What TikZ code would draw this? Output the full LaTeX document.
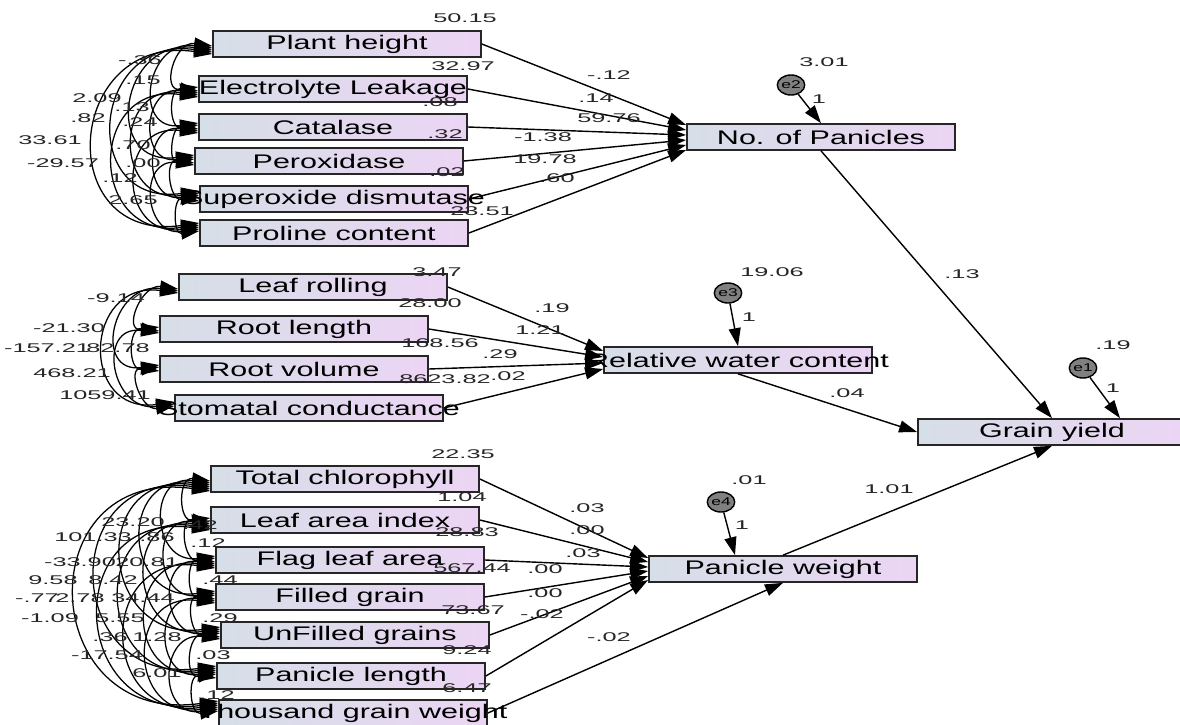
\documentclass[tikz,border=0pt]{standalone}
\usepackage{fontspec}
\setmainfont{Liberation Sans}
\newfontfamily\boxfont[FakeStretch=1.55]{Liberation Sans}
\newfontfamily\numfont[FakeStretch=2]{Liberation Sans}
\usetikzlibrary{arrows.meta}
\usetikzlibrary{calc}
\usetikzlibrary{shapes.geometric}
\definecolor{boxleft}{RGB}{214,222,231}
\definecolor{boxright}{RGB}{236,213,244}
\tikzset{
    >={Triangle[length=4.5mm,width=3mm]},
    obs/.style={draw=black!85, line width=1.2pt, left color=boxleft, right color=boxright,
        minimum width=6.7cm, minimum height=0.65cm, inner sep=0pt,
        font=\boxfont\fontsize{14}{16}\selectfont},
    err/.style={ellipse, draw=black, line width=1pt, fill=black!50, minimum width=0.6cm,
        minimum height=0.5cm, inner sep=0pt, font=\boxfont\fontsize{8}{9}\selectfont},
    num/.style={font=\numfont\fontsize{9}{10}\selectfont, inner sep=0pt, text=black!85},
    effect/.style={->, line width=1pt},
    cov/.style={{Triangle[length=4.5mm,width=3mm]}-{Triangle[length=4.5mm,width=3mm]}, line width=0.9pt}
}

\begin{document}
\begin{tikzpicture}[x=0.025cm, y=-0.025cm]
            \fill[white] (0,0) rectangle (1180,725);
            \useasboundingbox (0,0) rectangle (1180,725);

            \node[obs] (ph) at (347,44) {Plant height};
            \node[obs] (el) at (333,89) {Electrolyte Leakage};
            \node[obs] (cat) at (333,127) {Catalase};
            \node[obs] (per) at (329,161) {Peroxidase};
            \node[obs] (sod) at (334,199) {\makebox[0pt]{Superoxide dismutase}};
            \node[obs] (pro) at (334,233) {Proline content};
            \node[obs] (np) at (821,137) {No. of Panicles};

            \node[obs] (lr) at (313,287) {Leaf rolling};
            \node[obs] (rl) at (294,329) {Root length};
            \node[obs] (rv) at (294,369) {Root volume};
            \node[obs] (sc) at (309,408) {\makebox[0pt]{Stomatal conductance}};
            \node[obs] (rwc) at (738,360) {\makebox[0pt]{Relative water content}};

            \node[obs] (gy) at (1052,432) {Grain yield};

            \node[obs] (tc) at (345,479) {Total chlorophyll};
            \node[obs] (lai) at (345,520) {Leaf area index};
            \node[obs] (fla) at (350,560) {Flag leaf area};
            \node[obs] (fg) at (350,597) {Filled grain};
            \node[obs] (ufg) at (355,635) {UnFilled grains};
            \node[obs] (pl) at (351,676) {Panicle length};
            \node[obs] (tgw) at (353,713) {\makebox[0pt]{Thousand grain weight}};
            \node[obs] (pw) at (783,569) {Panicle weight};

            \node[err] (e1) at (1083,368) {e1};
            \node[err] (e2) at (791,85) {e2};
            \node[err] (e3) at (728,293) {e3};
            \node[err] (e4) at (721,502) {e4};

            \foreach \a/\dy in {ph/-12,el/-7,cat/-2,per/3,sod/8,pro/13}
                \draw[effect] (\a.east) -- ($(np.west)+(0,\dy)$);
            \foreach \a/\dy in {lr/-9,rl/-3,rv/3,sc/9}
                \draw[effect] (\a.east) -- ($(rwc.west)+(0,\dy)$);
            \foreach \a/\dy in {tc/-11,lai/-7,fla/-2,fg/2,ufg/7,pl/11}
                \draw[effect] (\a.east) -- ($(pw.west)+(0,\dy)$);
            \draw[effect] (tgw.east) -- (pw.south);

            \draw[effect] (e2) -- (np.north);
            \draw[effect] (e3) -- (rwc.north);
            \draw[effect] (e4) -- ($(pw.north)+(-48,0)$);
            \draw[effect] (e1) -- ($(gy.north)+(68,0)$);
            \draw[effect] (np.south) -- (gy.north);
            \draw[effect] (rwc.south) -- (gy.west);
            \draw[effect] (pw.north) -- (gy.south);

            \foreach \grp in {{ph,el,cat,per,sod,pro},{lr,rl,rv,sc},{tc,lai,fla,fg,ufg,pl,tgw}} {
                \foreach \a [count=\i] in \grp {
                    \foreach \b [count=\j] in \grp {
                        \ifnum\j>\i
                            \draw[cov] let \p1=($(\a.west)+(0,{2*(\j-\i)})$),
                                \p2=($(\b.west)+(0,{-2*(\j-\i)})$),
                                \n1={0.88*veclen(\x2-\x1,\y2-\y1)} in
                                (\p1) .. controls +(172:\n1) and +(188:\n1) .. (\p2);
                        \fi
                    }
                }
            }

            \foreach \t/\x/\y [count=\k] in {
                50.15/465/18, 32.97/463/66, .08/440/102, .32/445/134, .02/447/172, 23.51/482/211,
                -.12/609/75, .14/596/98, 59.76/609/118, -1.38/543/137, 19.78/545/159, .60/557/178,
                3.01/824/62, 1/819/99, .13/962/274,
                -.36/140/60, .15/143/80, 2.09/97/98, .13/132/107, .82/88/118, .24/140/122,
                33.61/50/140, .70/133/145, -29.57/63/163, .00/143/163, .12/120/178, 2.65/133/200,
                3.47/437/272, 28.00/430/303, 168.56/440/343, 8623.82/445/379,
                .19/552/308, 1.21/540/330, .29/500/354, .02/508/376,
                19.06/772/272, 1/749/317, .04/847/393, .19/1113/345, 1/1113/388,
                -9.14/116/298, -21.30/69/328, -157.21/47/348, 82.78/118/348, 468.21/72/373, 1059.41/105/395,
                22.35/463/454, 1.04/462/497, 28.83/467/532, 567.44/472/568, 73.67/473/610, 9.24/467/650, 6.47/467/688,
                .03/587/508, .00/587/530, .03/583/553, .00/545/569, .00/545/593, -.02/542/614, -.02/609/637,
                .01/749/480, 1/742/525, 1.01/889/489,
                .42/200/525, 23.20/133/522, .12/208/543, 101.33/93/537, .86/157/537,
                -33.90/80/562, 20.81/147/562, .44/220/580, 9.58/53/580, 8.42/113/580,
                -.77/37/598, 2.78/80/598, 34.44/143/598, -1.09/50/618, 5.55/120/618, .29/220/618,
                .36/110/637, 1.28/157/637, -17.54/107/655, .03/213/655, 6.01/157/673, .12/217/695}
                \node[num] (v\k) at (\x,\y) {\t};
        \end{tikzpicture}
\end{document}
